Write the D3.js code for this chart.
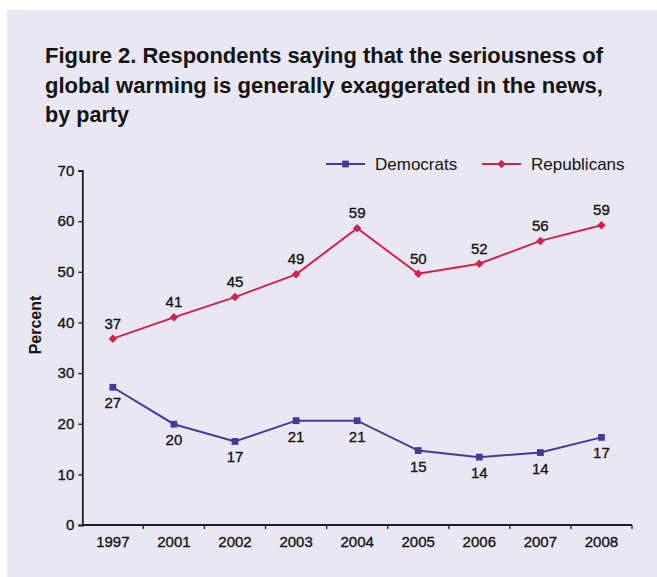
<!DOCTYPE html>
<html>
<head>
<meta charset="utf-8">
<script src="https://cdn.jsdelivr.net/npm/d3@7"></script>
<style>
  html, body { margin: 0; padding: 0; background: #ffffff; }
  svg { display: block; font-family: "Liberation Sans", Arial, Helvetica, sans-serif; }
  .num { stroke: #141414; stroke-width: 0.35px; }
</style>
</head>
<body>
<svg id="chart" width="657" height="577"></svg>
<script>
// ---- data ----
const years = ["1997", "2001", "2002", "2003", "2004", "2005", "2006", "2007", "2008"];
const democrats = [27.2, 19.9, 16.5, 20.6, 20.6, 14.7, 13.4, 14.3, 17.3];
const republicans = [36.8, 41.0, 45.0, 49.5, 58.6, 49.6, 51.6, 56.1, 59.2];
const democratLabels = ["27", "20", "17", "21", "21", "15", "14", "14", "17"];
const republicanLabels = ["37", "41", "45", "49", "59", "50", "52", "56", "59"];
const yTicks = [0, 10, 20, 30, 40, 50, 60, 70];
const titleLines = [
  "Figure 2. Respondents saying that the seriousness of",
  "global warming is generally exaggerated in the news,",
  "by party"
];
const seriesNames = ["Democrats", "Republicans"];

// ---- styles ----
const demColor = "#3f3d98";
const repColor = "#d3214f";
const axisColor = "#1e1e1e";
const textColor = "#141414";

const svg = d3.select("#chart");

// panel background
svg.append("rect").attr("x", 7).attr("y", 10).attr("width", 650).attr("height", 567)
  .attr("fill", "#e9e7f1");

// title
const title = svg.append("g");
const titleLens = [558, 558, 84];
titleLines.forEach((t, i) => {
  title.append("text")
    .attr("x", 45).attr("y", 63 + i * 29.5)
    .attr("font-size", 22).attr("font-weight", "bold")
    .attr("fill", textColor)
    .attr("textLength", titleLens[i]).attr("lengthAdjust", "spacingAndGlyphs")
    .text(t);
});

// scales
const x = d3.scaleBand().domain(years).range([82.3, 632]);
const y = d3.scaleLinear().domain([0, 70]).range([525, 170.5]);
const cx = d => x(d) + x.bandwidth() / 2;

// y axis
const yAxis = svg.append("g").attr("transform", "translate(82.3,0)")
  .call(d3.axisLeft(y).tickValues(yTicks).tickSize(4).tickPadding(4));
yAxis.select(".domain").attr("stroke", axisColor).attr("stroke-width", 1.8);
yAxis.selectAll(".tick line").attr("stroke", axisColor).attr("stroke-width", 1.3);
yAxis.selectAll(".tick text").attr("font-size", 15).attr("fill", textColor)
  .attr("class", "num")
  .attr("font-family", "Liberation Sans, Arial, sans-serif");

// x axis line
const xAxisG = svg.append("g").attr("transform", "translate(0,525)");
xAxisG.append("line").attr("x1", x.range()[0]).attr("x2", x.range()[1])
  .attr("stroke", axisColor).attr("stroke-width", 1.8);
// ticks at band boundaries
xAxisG.selectAll(".xt").data(years).enter().append("line")
  .attr("x1", d => x(d) + x.bandwidth()).attr("x2", d => x(d) + x.bandwidth())
  .attr("y1", 0).attr("y2", 4)
  .attr("stroke", axisColor).attr("stroke-width", 1.3);
xAxisG.selectAll(".xl").data(years).enter().append("text")
  .attr("class", "num")
  .attr("x", d => cx(d)).attr("y", 22)
  .attr("text-anchor", "middle").attr("font-size", 15).attr("fill", textColor)
  .text(d => d);

// y axis title
svg.append("text")
  .attr("transform", "translate(41,325) rotate(-90)")
  .attr("text-anchor", "middle").attr("font-size", 16).attr("font-weight", "bold")
  .attr("fill", textColor).text("Percent");

// lines
const line = d3.line().x((d, i) => cx(years[i])).y(d => y(d));
svg.append("path").datum(republicans).attr("d", line)
  .attr("fill", "none").attr("stroke", repColor).attr("stroke-width", 2);
svg.append("path").datum(democrats).attr("d", line)
  .attr("fill", "none").attr("stroke", demColor).attr("stroke-width", 2);

// markers
const diamond = d3.symbol().type(d3.symbolDiamond2).size(46);
const square = d3.symbol().type(d3.symbolSquare).size(46);
svg.selectAll(".rm").data(republicans).enter().append("path")
  .attr("d", diamond)
  .attr("transform", (d, i) => `translate(${cx(years[i])},${y(d)})`)
  .attr("fill", repColor);
svg.selectAll(".dm").data(democrats).enter().append("path")
  .attr("d", square)
  .attr("transform", (d, i) => `translate(${cx(years[i])},${y(d)})`)
  .attr("fill", demColor);

// value labels
svg.selectAll(".rl").data(republicans).enter().append("text")
  .attr("class", "num")
  .attr("x", (d, i) => cx(years[i])).attr("y", d => y(d) - 10)
  .attr("text-anchor", "middle").attr("font-size", 15).attr("fill", textColor)
  .text((d, i) => republicanLabels[i]);
svg.selectAll(".dl").data(democrats).enter().append("text")
  .attr("class", "num")
  .attr("x", (d, i) => cx(years[i])).attr("y", d => y(d) + 21)
  .attr("text-anchor", "middle").attr("font-size", 15).attr("fill", textColor)
  .text((d, i) => democratLabels[i]);

// legend
const legend = svg.append("g");
const legendItems = [
  { name: seriesNames[0], color: demColor, sym: square, x0: 326 },
  { name: seriesNames[1], color: repColor, sym: diamond, x0: 482 }
];
legendItems.forEach(it => {
  legend.append("line").attr("x1", it.x0).attr("x2", it.x0 + 39)
    .attr("y1", 164).attr("y2", 164)
    .attr("stroke", it.color).attr("stroke-width", 2);
  legend.append("path").attr("d", it.sym)
    .attr("transform", `translate(${it.x0 + 19.5},164)`)
    .attr("fill", it.color);
  legend.append("text").attr("x", it.x0 + 49).attr("y", 170)
    .attr("font-size", 17).attr("fill", textColor).text(it.name);
});
</script>
</body>
</html>
